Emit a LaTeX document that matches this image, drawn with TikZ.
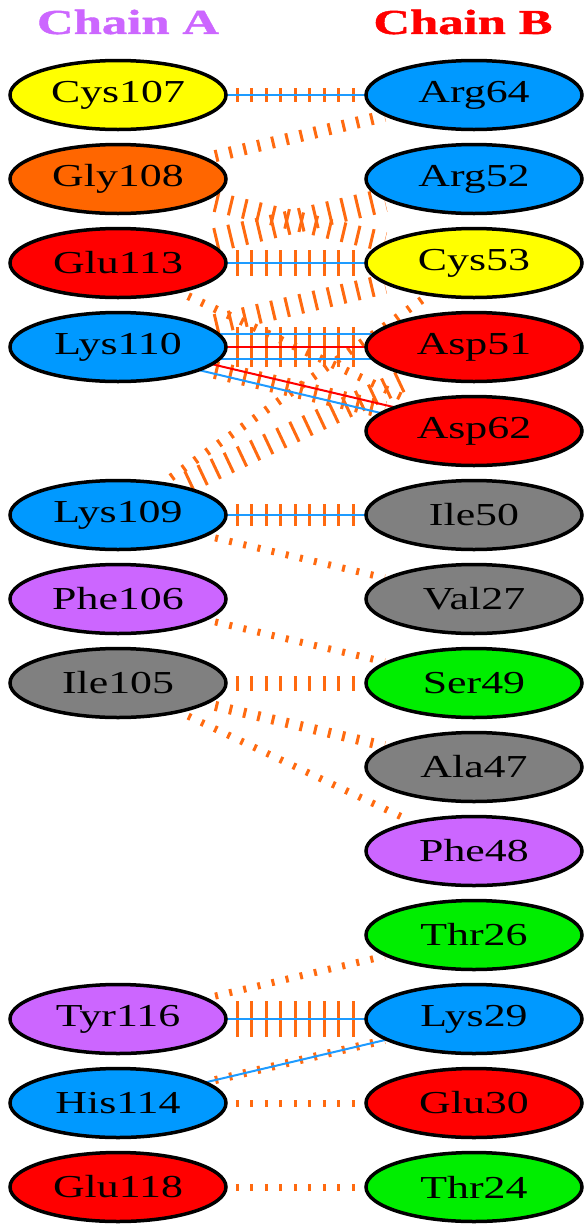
\documentclass[tikz,border=0pt]{standalone}
\usepackage{fontspec}
\setmainfont{Liberation Serif}
\newfontfamily\labfont[FakeStretch=1.37]{Liberation Serif}
\newfontfamily\ttlfont[FakeStretch=1.45,FakeBold=1.2]{Liberation Serif Bold}
\usetikzlibrary{shapes.geometric}
\pgfdeclarelayer{background}
\pgfsetlayers{background,main}
\definecolor{cyel}{HTML}{FFFF00}
\definecolor{corg}{HTML}{FF6600}
\definecolor{cred}{HTML}{FF0000}
\definecolor{cblu}{HTML}{0099FF}
\definecolor{cgry}{HTML}{808080}
\definecolor{cvio}{HTML}{CC66FF}
\definecolor{cgrn}{HTML}{00EE00}
\definecolor{hbc}{HTML}{1E9BFF}
\definecolor{sbc}{HTML}{FF0000}
\definecolor{nbc}{HTML}{FF6A10}
\tikzset{
  res/.style={ellipse, draw=black, line width=3.5pt, minimum width=216pt,
    minimum height=69pt, inner sep=0pt, fill=#1,
    font=\labfont\fontsize{32}{32}\selectfont},
  ttl/.style={font=\ttlfont\fontsize{35}{35}\selectfont, text=#1},
  hb/.style={draw=hbc, line width=2pt},
  sb/.style={draw=sbc, line width=2pt},
  nb/.style={draw=nbc, line width=#1, dash pattern=on 3pt off 11.5pt, dash phase=6.5pt},
}
\begin{document}
\begin{tikzpicture}[x=1pt,y=-1pt]
\useasboundingbox (0,0) rectangle (584,1224);
\node[ttl=cvio] (ta) at (128,22) {Chain A};
\node[ttl=cred] (tb) at (463,22) {Chain B};
% chain A
\node[res=cyel] (cys107) at (118,95) {Cys107};
\node[res=corg] (gly108) at (118,179) {Gly108};
\node[res=cred] (glu113) at (118,263) {Glu113};
\node[res=cblu] (lys110) at (118,347) {Lys110};
\node[res=cblu] (lys109) at (118,515) {Lys109};
\node[res=cvio] (phe106) at (118,599) {Phe106};
\node[res=cgry] (ile105) at (118,683) {Ile105};
\node[res=cvio] (tyr116) at (118,1019) {Tyr116};
\node[res=cblu] (his114) at (118,1103) {His114};
\node[res=cred] (glu118) at (118,1187) {Glu118};
% chain B
\node[res=cblu] (arg64) at (474,95) {Arg64};
\node[res=cblu] (arg52) at (474,179) {Arg52};
\node[res=cyel] (cys53) at (474,263) {Cys53};
\node[res=cred] (asp51) at (474,347) {Asp51};
\node[res=cred] (asp62) at (474,431) {Asp62};
\node[res=cgry] (ile50) at (474,515) {Ile50};
\node[res=cgry] (val27) at (474,599) {Val27};
\node[res=cgrn] (ser49) at (474,683) {Ser49};
\node[res=cgry] (ala47) at (474,767) {Ala47};
\node[res=cvio] (phe48) at (474,851) {Phe48};
\node[res=cgrn] (thr26) at (474,935) {Thr26};
\node[res=cblu] (lys29) at (474,1019) {Lys29};
\node[res=cred] (glu30) at (474,1103) {Glu30};
\node[res=cgrn] (thr24) at (474,1187) {Thr24};
\begin{pgfonlayer}{background}
  % non-bonded contacts
  \draw[nb=14pt] (cys107) -- (arg64);
  \draw[nb=12pt] (gly108) -- (arg64);
  \draw[nb=20pt] (gly108) -- (cys53);
  \draw[nb=24pt] (glu113) -- (arg52);
  \draw[nb=26pt] (glu113) -- (cys53);
  \draw[nb=8pt] (glu113) -- (asp62);
  \draw[nb=20pt] (lys110) -- (cys53);
  \draw[nb=40pt] (lys110) -- (asp51);
  \draw[nb=18pt] (lys110) -- (asp62);
  \draw[nb=8pt] (lys109) -- (cys53);
  \draw[nb=22pt] (lys109) -- (asp51);
  \draw[nb=22pt] (lys109) -- (ile50);
  \draw[nb=7pt] (lys109) -- (val27);
  \draw[nb=7pt] (phe106) -- (ser49);
  \draw[nb=15pt] (ile105) -- (ser49);
  \draw[nb=10pt] (ile105) -- (ala47);
  \draw[nb=7pt] (ile105) -- (phe48);
  \draw[nb=7pt] (tyr116) -- (thr26);
  \draw[nb=36pt] (tyr116) -- (lys29);
  \draw[nb=8pt] (his114) -- (lys29);
  \draw[nb=7pt] (his114) -- (glu30);
  \draw[nb=7pt] (glu118) -- (thr24);
  % hydrogen bonds and salt bridges
  \draw[hb] (cys107.center) -- (arg64.center);
  \draw[hb] (glu113.center) -- (cys53.center);
  \draw[hb, transform canvas={yshift=13pt}] (lys110.center) -- (asp51.center);
  \draw[sb] (lys110.center) -- (asp51.center);
  \draw[hb, transform canvas={yshift=-12pt}] (lys110.center) -- (asp51.center);
  \draw[sb, transform canvas={yshift=5pt}] (lys110.center) -- (asp62.center);
  \draw[hb, transform canvas={yshift=-4pt}] (lys110.center) -- (asp62.center);
  \draw[hb] (lys109.center) -- (ile50.center);
  \draw[hb] (tyr116.center) -- (lys29.center);
  \draw[hb] (his114.center) -- (lys29.center);
\end{pgfonlayer}
\end{tikzpicture}
\end{document}
